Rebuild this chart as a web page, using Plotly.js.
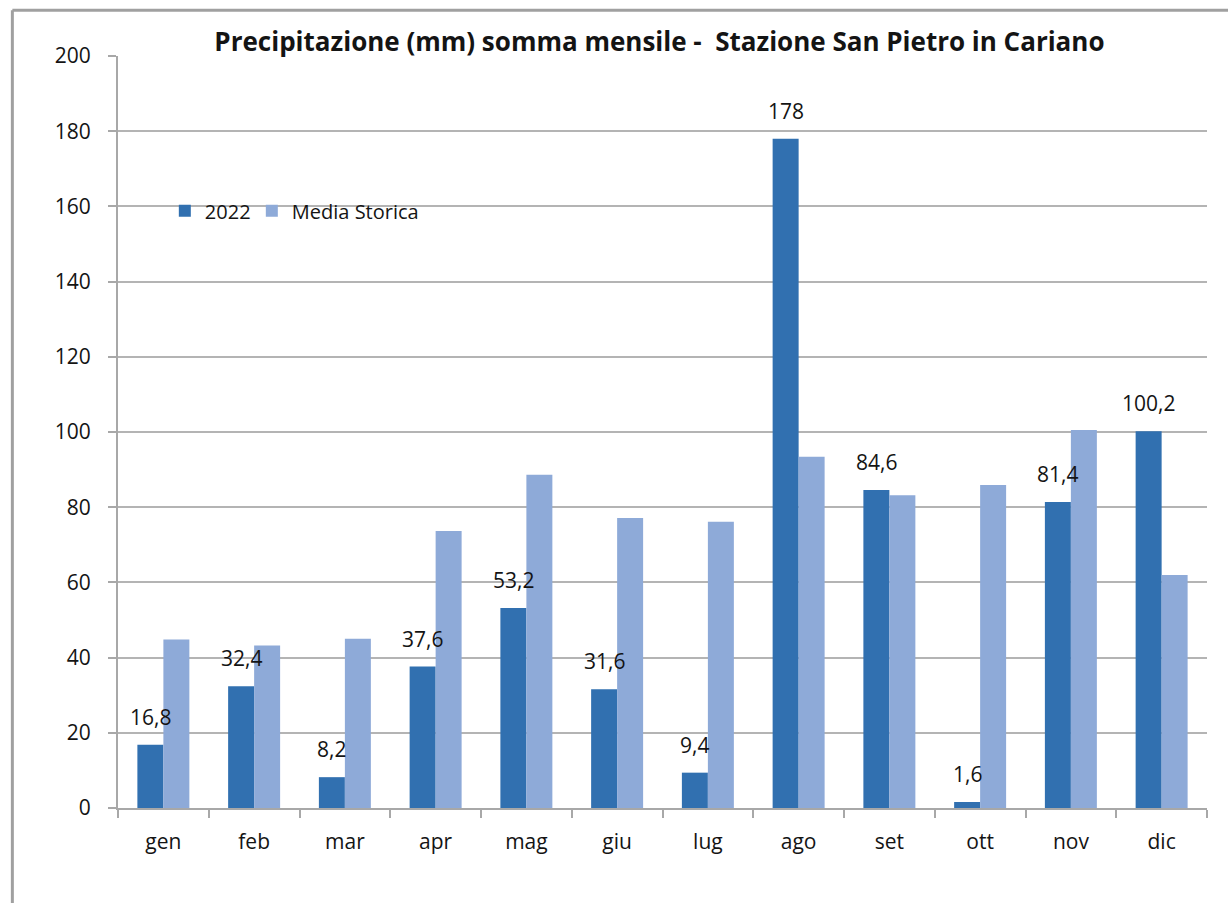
<!DOCTYPE html>
<html>
<head>
<meta charset="utf-8">
<script src="https://cdn.plot.ly/plotly-3.0.1.min.js"></script>
<style>html,body{margin:0;padding:0;background:#fff;}#chart{width:1228px;height:903px;}</style>
</head>
<body>
<div id="chart"></div>
<script>
var months = ["gen","feb","mar","apr","mag","giu","lug","ago","set","ott","nov","dic"];
var values2022 = [16.8, 32.4, 8.2, 37.6, 53.2, 31.6, 9.4, 178, 84.6, 1.6, 81.4, 100.2];
var mediaStorica = [44.8, 43.2, 45.0, 73.7, 88.6, 77.1, 76.1, 93.4, 83.2, 85.9, 100.5, 62.0];
var yTicks = [0, 20, 40, 60, 80, 100, 120, 140, 160, 180, 200];

var FONT = "'Open Sans', 'Noto Sans', sans-serif";
var TXT = '#141414';
var labels2022 = values2022.map(function(v){ return String(v).replace('.', ','); });

var traces = [
  {
    type: 'bar', name: '2022', x: months, y: values2022,
    marker: {color: '#3170b0'}, hoverinfo: 'x+y', legendwidth: 42
  },
  {
    type: 'bar', name: 'Media Storica', x: months, y: mediaStorica,
    marker: {color: '#8eaad8'}, hoverinfo: 'x+y'
  }
];

var annotations = months.map(function(m, i){
  return {
    x: m, y: values2022[i], xref: 'x', yref: 'y',
    text: labels2022[i], showarrow: false,
    xanchor: 'center', yanchor: 'middle', xshift: -13, yshift: 28,
    font: {family: FONT, size: 21, color: TXT}
  };
});

var layout = {
  width: 1228, height: 903,
  margin: {l: 118, r: 21, t: 56, b: 95, pad: 0},
  paper_bgcolor: '#fff', plot_bgcolor: '#fff',
  barmode: 'group', bargap: 0.427, bargroupgap: 0,
  font: {family: FONT, size: 20, color: TXT},
  title: {
    text: '<b>Precipitazione (mm) somma mensile -  Stazione San Pietro in Cariano</b>',
    font: {family: FONT, size: 26, color: TXT},
    x: 0.537, xanchor: 'center', y: 0.954, yanchor: 'middle'
  },
  showlegend: true,
  legend: {
    orientation: 'h', x: 0.043, xanchor: 'left', y: 0.82, yanchor: 'top',
    font: {family: FONT, size: 20, color: TXT}, bgcolor: 'rgba(0,0,0,0)',
    itemwidth: 30, tracegroupgap: 0
  },
  annotations: annotations,
  xaxis: {
    type: 'category', showgrid: false, showline: true, linecolor: '#a8a8a8', linewidth: 2,
    ticks: 'outside', tickson: 'boundaries', ticklen: 8, tickcolor: '#a8a8a8', tickwidth: 2,
    ticklabelstandoff: 14,
    tickfont: {family: FONT, size: 21, color: TXT}, zeroline: false, fixedrange: true
  },
  yaxis: {
    range: [0, 200], tickvals: yTicks, ticktext: yTicks.map(String),
    showgrid: true, gridcolor: '#b4b4b4', gridwidth: 2,
    showline: true, linecolor: '#a8a8a8', linewidth: 2,
    ticks: 'outside', ticklen: 8, tickcolor: '#a8a8a8', tickwidth: 2,
    ticklabelstandoff: 13,
    tickfont: {family: FONT, size: 21, color: TXT}, zeroline: false, fixedrange: true
  },
  shapes: [
    {type: 'line', xref: 'paper', yref: 'paper', x0: -0.097, x1: -0.097, y0: -0.13, y1: 1.061,
     line: {color: '#a0a0a0', width: 3}},
    {type: 'line', xref: 'paper', yref: 'paper', x0: -0.097, x1: 1.03, y0: 1.061, y1: 1.061,
     line: {color: '#a0a0a0', width: 3}}
  ]
};

Plotly.newPlot('chart', traces, layout, {displayModeBar: false, staticPlot: true});
</script>
</body>
</html>
